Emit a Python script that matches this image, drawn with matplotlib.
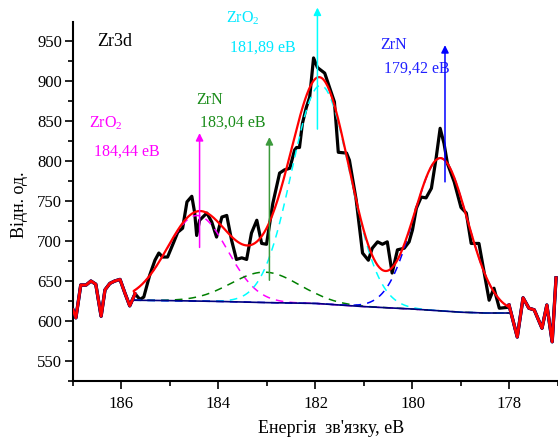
import numpy as np
import matplotlib.pyplot as plt
from matplotlib.ticker import MultipleLocator

plt.rcParams['font.family'] = ['Liberation Serif', 'DejaVu Serif']
plt.rcParams['mathtext.fontset'] = 'custom'
plt.rcParams['mathtext.rm'] = 'Liberation Serif'

# measured Zr3d spectrum (binding energy, eV / intensity, a.u.)
energy = [187.00, 186.94, 186.84, 186.73, 186.63, 186.53, 186.42, 186.34, 186.24, 186.14,
          186.03, 185.93, 185.83, 185.72, 185.62, 185.54, 185.42, 185.31, 185.23, 185.15,
          185.05, 184.92, 184.84, 184.74, 184.65, 184.55, 184.49, 184.45, 184.39, 184.24,
          184.14, 184.04, 183.93, 183.83, 183.73, 183.63, 183.52, 183.42, 183.32, 183.21,
          183.11, 183.01, 182.88, 182.74, 182.64, 182.53, 182.43, 182.39, 182.33, 182.27,
          182.19, 182.12, 182.04, 181.96, 181.81, 181.61, 181.53, 181.36, 181.30, 181.16,
          181.03, 180.91, 180.83, 180.72, 180.62, 180.52, 180.42, 180.31, 180.17, 180.07,
          180.00, 179.92, 179.82, 179.72, 179.61, 179.51, 179.43, 179.35, 179.28, 179.14,
          179.00, 178.89, 178.79, 178.63, 178.42, 178.32, 178.21, 178.05, 178.01, 177.84,
          177.72, 177.60, 177.49, 177.33, 177.23, 177.12, 177.04]
counts = [614, 604, 645, 645, 650, 646, 606, 639, 647, 650,
          652, 635, 619, 634, 627, 630, 657, 676, 685, 680,
          680, 699, 711, 716, 749, 756, 735, 707, 726, 735,
          724, 705, 730, 732, 701, 677, 679, 677, 710, 726,
          697, 696, 747, 785, 789, 791, 814, 817, 817, 847,
          867, 880, 929, 917, 910, 874, 811, 810, 801, 751,
          685, 676, 691, 699, 696, 699, 660, 689, 691, 699,
          714, 741, 755, 754, 766, 805, 841, 822, 797, 774,
          742, 735, 697, 697, 626, 641, 616, 617, 620, 580,
          629, 616, 614, 591, 620, 574, 654]

# background under the fitted region
bg_energy = [185.75, 185.0, 184.0, 183.0, 182.0, 181.5, 181.0, 180.5, 180.0, 179.5, 179.0, 178.5, 178.0]
bg_counts = [626, 625.5, 624.5, 623, 622, 620, 618, 616.5, 615, 613, 611, 610, 610]

# fitted components
peak_names = ['ZrO$_2$', 'ZrN', 'ZrO$_2$', 'ZrN']
peak_centers = [184.44, 183.04, 181.89, 179.42]
peak_heights = [107, 38, 273, 191]
peak_fwhm = [1.46, 1.65, 1.41, 1.30]
peak_colors = ['#ff00ff', '#008000', '#00ffff', '#0000ff']
label_colors = ['#ff00ff', '#1a8c1a', '#00e8ff', '#2020ff']
arrow_colors = ['#ff00ff', '#3c9a3c', '#00ffff', '#0000ff']
arrow_x = [184.39, 182.95, 181.96, 179.33]
arrow_y = [(692, 835), (651, 830), (840, 992), (774, 945)]
name_pos = [(186.67, 847), (184.45, 877), (183.85, 979), (180.66, 945)]
value_pos = [(186.57, 812), (184.39, 848), (183.77, 942), (180.58, 916)]

energy = np.array(energy)
counts = np.array(counts)

fig = plt.figure(figsize=(5.58, 4.48), dpi=100)
ax = fig.add_axes([0.1308, 0.1496, 0.8692, 0.8014])

ax.plot(energy, counts, color='black', lw=2.3, zorder=2)

# fit curves: background + each gaussian component, and their sum
xf = np.linspace(bg_energy[0], bg_energy[-1], 400)
bg = np.interp(xf, bg_energy[::-1], bg_counts[::-1])
total = bg.copy()
for c, h, w, col in zip(peak_centers, peak_heights, peak_fwhm, peak_colors):
    s = w / 2.3548
    comp = h * np.exp(-(xf - c) ** 2 / (2 * s * s))
    total += comp
    ax.plot(xf, bg + comp, color=col, lw=1.1, ls=(0, (5, 4)), zorder=3)
ax.plot(bg_energy, bg_counts, color='#000080', lw=1.2, zorder=3)

# outside the fit window the envelope follows the data
left = energy > 185.7
right = energy < 178.02
ax.plot(energy[left], counts[left], color='#000080', lw=2.4, zorder=3)
ax.plot(energy[right], counts[right], color='#000080', lw=2.4, zorder=3)
ax.plot(energy[left], counts[left], color='red', lw=2.0, zorder=4)
ax.plot(energy[right], counts[right], color='red', lw=2.0, zorder=4)
ax.plot(np.r_[energy[left][-1], xf, energy[right][0]],
        np.r_[counts[left][-1], total, counts[right][0]], color='red', lw=1.6, zorder=4)

for i in range(4):
    ax.annotate('', xy=(arrow_x[i], arrow_y[i][1]), xytext=(arrow_x[i], arrow_y[i][0]),
                arrowprops=dict(arrowstyle='-|>', color=arrow_colors[i], lw=1.1,
                                mutation_scale=11, shrinkA=0, shrinkB=0),
                annotation_clip=False, zorder=5)
    ax.text(name_pos[i][0], name_pos[i][1], peak_names[i], color=label_colors[i],
            fontsize=11.5, ha='left', va='center', clip_on=False)
    value = ('%.2f' % peak_centers[i]).replace('.', ',') + ' еВ'
    ax.text(value_pos[i][0], value_pos[i][1], value, color=label_colors[i],
            fontsize=11.5, ha='left', va='center', clip_on=False)

ax.text(186.51, 949, 'Zr3d', fontsize=13, ha='left', va='center')

ax.set_xlim(187, 177)
ax.set_ylim(525, 974)
ax.xaxis.set_major_locator(MultipleLocator(2))
ax.xaxis.set_minor_locator(MultipleLocator(1))
ax.yaxis.set_minor_locator(MultipleLocator(25))
ax.set_yticks(np.arange(550, 951, 50))
ax.spines['top'].set_visible(False)
ax.spines['right'].set_visible(False)
ax.spines['left'].set_linewidth(1.5)
ax.spines['bottom'].set_linewidth(1.5)
ax.tick_params(which='major', direction='out', length=6, width=1.2, labelsize=12, pad=2)
ax.tick_params(which='minor', direction='out', length=3.5, width=1.2)
ax.tick_params(axis='x', which='major', pad=5)

fig.text(331 / 558, 1 - 428 / 448, "Енергія  зв'язку, еВ", fontsize=13, ha='center', va='center')
fig.text(19 / 558, 1 - 205 / 448, 'Відн. од.', fontsize=13, ha='center', va='center', rotation=90)

fig.savefig('out.png', dpi=100)
